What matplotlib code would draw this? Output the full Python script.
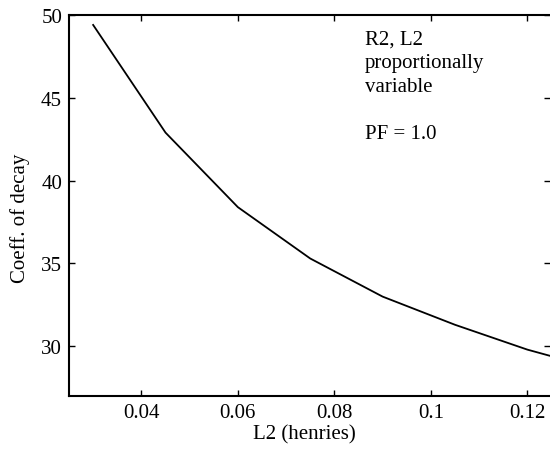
import matplotlib
matplotlib.use("Agg")
import matplotlib.pyplot as plt

# L2 (henries) vs coefficient of decay
l2 = [0.030, 0.045, 0.060, 0.075, 0.090, 0.105, 0.120, 0.135]
decay = [49.4, 42.9, 38.4, 35.3, 33.0, 31.3, 29.8, 28.6]

xticks = [0.04, 0.06, 0.08, 0.1, 0.12]
xticklabels = ["0.04", "0.06", "0.08", "0.1", "0.12"]
yticks = [30, 35, 40, 45, 50]

plt.rcParams['font.family'] = ['Liberation Serif', 'DejaVu Serif']

fig = plt.figure(figsize=(5.5, 4.52), dpi=100)
ax = fig.add_axes([0.1255, 0.1217, 0.8745, 0.8429])

ax.plot(l2, decay, color='black', linewidth=1.3)

ax.set_xlim(0.025, 0.1247)
ax.set_ylim(27, 50)
ax.set_xticks(xticks)
ax.set_xticklabels(xticklabels)
ax.set_yticks(yticks)
ax.tick_params(direction='in', length=4, width=1, labelsize=15,
               top=True, right=True, pad=5)

ax.spines['right'].set_visible(False)
for side in ['left', 'top', 'bottom']:
    ax.spines[side].set_linewidth(1.5)

ax.set_xlabel("L2 (henries)", fontsize=15, labelpad=2, x=0.49)
ax.set_ylabel("Coeff. of decay", fontsize=15, labelpad=8, y=0.47)

ax.text(0.615, 0.962, "R2, L2\nproportionally\nvariable\n\nPF = 1.0",
        transform=ax.transAxes, fontsize=15, va='top', ha='left',
        linespacing=1.33)

fig.savefig("out.png", dpi=100)
